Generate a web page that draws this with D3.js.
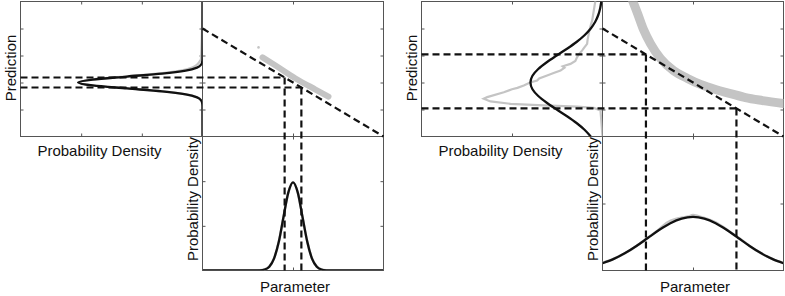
<!DOCTYPE html>
<html>
<head>
<meta charset="utf-8">
<script src="https://cdn.jsdelivr.net/npm/d3@7"></script>
<style>
body { margin: 0; background: #fff; }
svg { display: block; font-family: "Liberation Sans", Arial, sans-serif; }
</style>
</head>
<body>
<svg width="785" height="296"></svg>
<script>
// ticks shared by both figures
var predTicks = [1, 2, 3, 4],
    paramTicks = [1];

// linearised model (dashed) in both scatter panels
var lineParam = [0, 2],
    linePred = [4, 0];

// ---- left figure: narrow parameter distribution ----
var leftBandParam = [0.663, 0.807, 1.028, 1.249, 1.392],
    leftBandPred = [2.93, 2.63, 2.15, 1.74, 1.48],
    leftStrayParam = [0.619],
    leftStrayPred = [3.30];

var leftPred = [0, 1.12, 1.23, 1.34, 1.45, 1.56, 1.67, 1.78, 1.89, 2, 2.11, 2.22, 2.33, 2.44, 2.55, 2.66, 2.77, 2.88, 5],
    leftPredDens = [0, 0.0007, 0.0045, 0.0228, 0.09, 0.277, 0.666, 1.243, 1.809, 2.05, 1.809, 1.243, 0.666, 0.277, 0.09, 0.0228, 0.0045, 0.0007, 0],
    leftPredHist = [0, 0.001, 0.004, 0.02, 0.085, 0.27, 0.65, 1.22, 1.8, 2.02, 1.83, 1.3, 0.74, 0.36, 0.17, 0.09, 0.05, 0.025, 0];

var leftParam = [0, 0.58, 0.633, 0.685, 0.738, 0.79, 0.843, 0.895, 0.948, 1, 1.053, 1.105, 1.158, 1.21, 1.263, 1.315, 1.368, 1.42, 2],
    leftParamDens = [0, 0, 0.0086, 0.0438, 0.173, 0.535, 1.282, 2.396, 3.486, 3.95, 3.486, 2.396, 1.282, 0.535, 0.173, 0.0438, 0.0086, 0, 0];

var leftLevels = [2.185, 1.815],
    leftPredDensTicks = [1, 2],
    leftParamDensTicks = [2, 4];

// ---- right figure: wide parameter distribution ----
var rightBandParam = [0.331, 0.387, 0.453, 0.53, 0.641, 0.785, 0.939, 1.083, 1.249, 1.414, 1.58, 1.768, 2.0],
    rightBandPred = [5.04, 4.56, 3.96, 3.44, 2.89, 2.44, 2.15, 1.93, 1.74, 1.59, 1.44, 1.33, 1.22];

var rightPred = [0, 0.25, 0.5, 0.75, 1, 1.25, 1.5, 1.75, 2, 2.25, 2.5, 2.75, 3, 3.25, 3.5, 3.75, 4, 4.25, 4.5, 4.75, 5],
    rightPredDens = [0.0649, 0.0993, 0.1435, 0.196, 0.253, 0.308, 0.355, 0.387, 0.398, 0.387, 0.355, 0.308, 0.253, 0.196, 0.1435, 0.0993, 0.0649, 0.0401, 0.0234, 0.0128, 0.0067];

var rightHistPred = [0, 0.96, 1.06, 1.11, 1.15, 1.21, 1.3, 1.4, 1.46, 1.64, 1.75, 1.8, 1.89, 2.0, 2.07, 2.15, 2.26, 2.35, 2.44, 2.55, 2.6, 2.69, 2.8, 2.94, 3.05, 3.19, 3.3, 3.43, 3.6, 3.8, 4.0, 4.3, 4.67, 5.04],
    rightHistDens = [0, 0.011, 0.048, 0.14, 0.324, 0.508, 0.619, 0.656, 0.637, 0.545, 0.5, 0.47, 0.435, 0.4, 0.361, 0.35, 0.306, 0.27, 0.232, 0.21, 0.22, 0.177, 0.15, 0.14, 0.13, 0.112, 0.1, 0.085, 0.082, 0.076, 0.07, 0.057, 0.048, 0.039];

var rightParam = [0, 0.125, 0.25, 0.375, 0.5, 0.625, 0.75, 0.875, 1, 1.125, 1.25, 1.375, 1.5, 1.625, 1.75, 1.875, 2],
    rightParamDens = [0.108, 0.173, 0.26, 0.366, 0.485, 0.604, 0.706, 0.775, 0.8, 0.775, 0.706, 0.604, 0.485, 0.366, 0.26, 0.173, 0.108];

var rightHistParam = [0, 0.12, 0.3, 0.5, 0.6, 0.72, 0.8, 0.88, 0.95, 1.0, 1.06, 1.15, 1.25, 1.4, 1.55, 1.7, 1.85, 2.0],
    rightHistParamDens = [0.115, 0.172, 0.298, 0.49, 0.585, 0.72, 0.765, 0.79, 0.805, 0.83, 0.81, 0.775, 0.72, 0.585, 0.445, 0.3, 0.19, 0.11];

var rightLevels = [3.04, 1.04],
    rightPredDensTicks = [0.5],
    rightParamDensTicks = [1];

var zip = (a, b) => a.map((v, i) => [v, b[i]]);

var svg = d3.select("svg");
svg.append("rect").attr("width", 785).attr("height", 296).attr("fill", "#fff");

var yTop = 1.5, yMid = 136.5, yBot = 270.5;
var gray = "#c4c4c4", ink = "#111", frame = "#555";

function ticks(g, axis, tx, ty) {
    g.append("g")
        .attr("transform", "translate(" + tx + "," + ty + ")")
        .call(axis.tickSize(-3).tickFormat(""))
        .call(s => s.select(".domain").remove())
        .call(s => s.selectAll("line").attr("stroke", frame));
}

function figure(o) {
    var g = svg.append("g");

    var x = d3.scaleLinear().domain([0, 2]).range([o.xb, o.xe]),
        y = d3.scaleLinear().domain([0, 5]).range([yMid, yTop]),
        dx = d3.scaleLinear().domain([0, o.predDensMax]).range([o.xb, o.xa]),
        dy = d3.scaleLinear().domain([0, o.paramDensMax]).range([yBot, yMid]),
        onLine = d3.scaleLinear().domain(linePred).range(lineParam);

    var defs = g.append("defs");
    [["A", o.xa, yTop, o.xb, yMid], ["B", o.xb, yTop, o.xe, yMid], ["C", o.xb, yMid, o.xe, yBot]].forEach(p => {
        defs.append("clipPath").attr("id", o.id + p[0])
            .append("rect").attr("x", p[1]).attr("y", p[2])
            .attr("width", p[3] - p[1]).attr("height", p[4] - p[2]);
    });

    // frames
    [[o.xa, yTop, o.xb, yMid], [o.xb, yTop, o.xe, yMid], [o.xb, yMid, o.xe, yBot]].forEach(p => {
        g.append("rect").attr("x", p[0]).attr("y", p[1])
            .attr("width", p[2] - p[0]).attr("height", p[3] - p[1])
            .attr("fill", "none").attr("stroke", frame).attr("stroke-width", 1);
    });

    // ticks, MATLAB style on every side
    ticks(g, d3.axisBottom(dx).tickValues(o.predDensTicks), 0, yMid);
    ticks(g, d3.axisTop(dx).tickValues(o.predDensTicks), 0, yTop);
    ticks(g, d3.axisLeft(y).tickValues(predTicks), o.xa, 0);
    ticks(g, d3.axisRight(y).tickValues(predTicks), o.xb, 0);
    ticks(g, d3.axisLeft(y).tickValues(predTicks), o.xb, 0);
    ticks(g, d3.axisRight(y).tickValues(predTicks), o.xe, 0);
    ticks(g, d3.axisBottom(x).tickValues(paramTicks), 0, yMid);
    ticks(g, d3.axisTop(x).tickValues(paramTicks), 0, yTop);
    ticks(g, d3.axisBottom(x).tickValues(paramTicks), 0, yBot);
    ticks(g, d3.axisTop(x).tickValues(paramTicks), 0, yMid);
    ticks(g, d3.axisLeft(dy).tickValues(o.paramDensTicks), o.xb, 0);
    ticks(g, d3.axisRight(dy).tickValues(o.paramDensTicks), o.xe, 0);

    // prediction density (sideways)
    var side = d3.line().x(d => dx(d[1])).y(d => y(d[0]));
    var pa = g.append("g").attr("clip-path", "url(#" + o.id + "A)");
    pa.append("path").datum(zip(o.histPred, o.histPredDens))
        .attr("d", side.curve(o.histCurve)).attr("fill", "none")
        .attr("stroke", gray).attr("stroke-width", 2.2);
    pa.append("path").datum(zip(o.pred, o.predDens))
        .attr("d", side.curve(d3.curveMonotoneY)).attr("fill", "none")
        .attr("stroke", ink).attr("stroke-width", 2.3);

    // scatter band
    var pb = g.append("g").attr("clip-path", "url(#" + o.id + "B)");
    pb.append("path").datum(zip(o.bandParam, o.bandPred))
        .attr("d", d3.line().x(d => x(d[0])).y(d => y(d[1])).curve(d3.curveMonotoneX))
        .attr("fill", "none").attr("stroke", gray)
        .attr("stroke-width", o.bandWidth).attr("stroke-linecap", "round");
    pb.selectAll("circle").data(zip(o.strayParam, o.strayPred)).join("circle")
        .attr("cx", d => x(d[0])).attr("cy", d => y(d[1])).attr("r", 1.3).attr("fill", gray);

    // parameter density
    var flat = d3.line().x(d => x(d[0])).y(d => dy(d[1])).curve(d3.curveMonotoneX);
    var pc = g.append("g").attr("clip-path", "url(#" + o.id + "C)");
    pc.append("path").datum(zip(o.histParam, o.histParamDens))
        .attr("d", flat).attr("fill", "none").attr("stroke", gray).attr("stroke-width", 2.5);
    pc.append("path").datum(zip(o.param, o.paramDens))
        .attr("d", flat).attr("fill", "none").attr("stroke", ink).attr("stroke-width", 2.3);

    // dashed construction lines
    var dash = sel => sel.attr("stroke", ink).attr("stroke-width", 2.2)
        .attr("stroke-dasharray", "7,4").attr("fill", "none");
    g.append("line").call(dash)
        .attr("x1", x(lineParam[0])).attr("y1", y(linePred[0]))
        .attr("x2", x(lineParam[1])).attr("y2", y(linePred[1]));
    o.levels.forEach(v => {
        var px = x(onLine(v));
        g.append("line").call(dash)
            .attr("x1", o.xa).attr("y1", y(v)).attr("x2", px).attr("y2", y(v));
        g.append("line").call(dash)
            .attr("x1", px).attr("y1", y(v)).attr("x2", px).attr("y2", yBot);
    });

    // labels
    var label = sel => sel.attr("font-size", 15).attr("fill", "#111").attr("text-anchor", "middle");
    g.append("text").call(label).text("Prediction")
        .attr("transform", "translate(" + (o.xa - 5) + "," + 68 + ") rotate(-90)");
    g.append("text").call(label).text("Probability Density")
        .attr("x", o.xa + 79).attr("y", 156);
    g.append("text").call(label).text("Probability Density")
        .attr("transform", "translate(" + (o.xb - 5) + "," + 199 + ") rotate(-90)");
    g.append("text").call(label).text("Parameter")
        .attr("x", (o.xb + o.xe) / 2 + 2).attr("y", 292);
}

figure({
    id: "L", xa: 20.5, xb: 202.5, xe: 383.5,
    predDensMax: 3, paramDensMax: 6,
    predDensTicks: leftPredDensTicks, paramDensTicks: leftParamDensTicks,
    pred: leftPred, predDens: leftPredDens,
    histPred: leftPred, histPredDens: leftPredHist, histCurve: d3.curveMonotoneY,
    bandParam: leftBandParam, bandPred: leftBandPred, bandWidth: 6,
    strayParam: leftStrayParam, strayPred: leftStrayPred,
    param: leftParam, paramDens: leftParamDens,
    histParam: leftParam, histParamDens: leftParamDens,
    levels: leftLevels
});

figure({
    id: "R", xa: 421.5, xb: 602.5, xe: 783.5,
    predDensMax: 1, paramDensMax: 2,
    predDensTicks: rightPredDensTicks, paramDensTicks: rightParamDensTicks,
    pred: rightPred, predDens: rightPredDens,
    histPred: rightHistPred, histPredDens: rightHistDens, histCurve: d3.curveLinear,
    bandParam: rightBandParam, bandPred: rightBandPred, bandWidth: 9,
    strayParam: [], strayPred: [],
    param: rightParam, paramDens: rightParamDens,
    histParam: rightHistParam, histParamDens: rightHistParamDens,
    levels: rightLevels
});
</script>
</body>
</html>
